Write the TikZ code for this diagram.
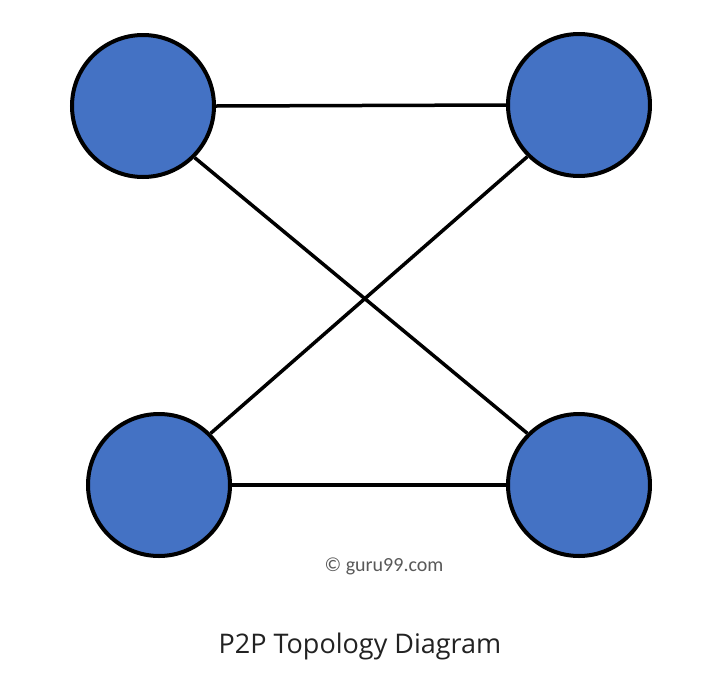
\documentclass[tikz,border=0pt]{standalone}
\usepackage{fontspec}
\setmainfont{Open Sans}
\newfontfamily\markfont{Carlito}
\usepackage{xcolor}
\definecolor{peerblue}{HTML}{4472C4}
\definecolor{titlegray}{HTML}{222222}
\definecolor{markgray}{HTML}{595959}

\begin{document}
\begin{tikzpicture}[x=1pt,y=-1pt,
  peer/.style={circle, draw=black, line width=4pt, fill=peerblue, minimum size=142pt, inner sep=0pt},
  link/.style={black, line width=3.5pt}]
%% frame
\useasboundingbox[fill=white] (0,0) rectangle (724,678);
%% peers
\node[peer] (tl) at (143,106) {};
\node[peer] (tr) at (579,105) {};
\node[peer] (bl) at (159,485) {};
\node[peer] (br) at (579,485) {};
%% links
\draw[link] (tl.east) -- (tr.west);
\draw[link] (bl.east) -- (br.west);
\draw[link] (tl.-45) -- (br.135);
\draw[link] (bl.45) -- (tr.-135);
%% labels
\node[markgray, font=\markfont\fontsize{20}{24}\selectfont] (mark) at (384,566) {© guru99.com};
\node[titlegray, font=\fontsize{27}{32}\selectfont] (title) at (360,646) {P2P Topology Diagram};
\end{tikzpicture}
\end{document}
